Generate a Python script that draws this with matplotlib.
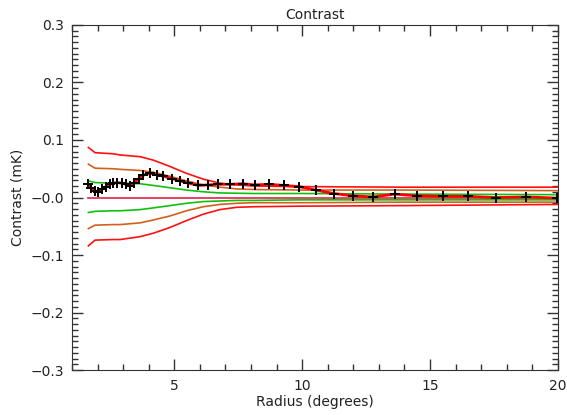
import matplotlib

matplotlib.use("Agg")
import matplotlib.pyplot as plt
from matplotlib.ticker import MultipleLocator

# measured contrast profile
radius = [1.63, 1.76, 1.89, 2.02, 2.16, 2.33, 2.48, 2.61, 2.77, 2.94, 3.11, 3.27, 3.42,
          3.63, 3.79, 4.05, 4.31, 4.57, 4.90, 5.22, 5.55, 5.94, 6.33, 6.72, 7.17, 7.67,
          8.15, 8.71, 9.28, 9.88, 10.53, 11.23, 11.98, 12.76, 13.62, 14.48, 15.49,
          16.47, 17.56, 18.77, 19.95]
contrast = [0.023, 0.016, 0.012, 0.010, 0.014, 0.019, 0.023, 0.025, 0.026, 0.025, 0.023,
            0.020, 0.026, 0.033, 0.039, 0.042, 0.040, 0.037, 0.033, 0.029, 0.025, 0.021,
            0.022, 0.023, 0.023, 0.024, 0.022, 0.023, 0.021, 0.019, 0.013, 0.007, 0.003,
            0.001, 0.006, 0.003, 0.002, 0.002, 0.000, 0.001, -0.001]
contrast_err = [0.005] * len(radius)

# envelope curves
env_x = [1.64, 1.90, 2.61, 2.88, 3.66, 4.18, 4.83, 5.48, 6.13, 6.78, 7.43, 8.08, 9.91, 14.0, 20.0]
red_hi = [0.087, 0.078, 0.076, 0.074, 0.071, 0.065, 0.054, 0.042, 0.032, 0.025, 0.022,
          0.020, 0.019, 0.018, 0.018]
red_lo = [-0.084, -0.074, -0.073, -0.073, -0.068, -0.062, -0.052, -0.040, -0.029, -0.021,
          -0.017, -0.016, -0.015, -0.014, -0.012]
orange_hi = [0.058, 0.051, 0.050, 0.049, 0.047, 0.044, 0.037, 0.029, 0.022, 0.018, 0.015,
             0.014, 0.013, 0.013, 0.012]
orange_lo = [-0.054, -0.048, -0.047, -0.047, -0.044, -0.039, -0.032, -0.023, -0.016, -0.012,
             -0.010, -0.009, -0.009, -0.008, -0.008]
green_hi = [0.029, 0.026, 0.025, 0.025, 0.024, 0.021, 0.017, 0.013, 0.010, 0.008, 0.0075,
            0.007, 0.007, 0.006, 0.005]
green_lo = [-0.026, -0.024, -0.023, -0.023, -0.021, -0.018, -0.014, -0.010, -0.007, -0.006,
            -0.005, -0.005, -0.004, -0.004, -0.004]

yticks = [-0.3, -0.2, -0.1, 0.0, 0.1, 0.2, 0.3]
ytick_labels = ["\u22120.3", "\u22120.2", "\u22120.1", "\u22120.0", "0.1", "0.2", "0.3"]
xticks = [5, 10, 15, 20]

fig = plt.figure(figsize=(5.67, 4.15), dpi=100)
ax = fig.add_axes([0.127, 0.108, 0.857, 0.832])

ax.plot([env_x[0], 20], [0, 0], color="#e8305a", lw=1.3)
for hi, lo, col in [(red_hi, red_lo, "#ff1010"), (orange_hi, orange_lo, "#d2601a"),
                    (green_hi, green_lo, "#10c010")]:
    ax.plot(env_x, hi, color=col, lw=1.2)
    ax.plot(env_x, lo, color=col, lw=1.2)

ax.plot(radius, contrast, color="#ff0000", lw=2)
ax.errorbar(radius, contrast, yerr=contrast_err, fmt="+", color="black", ms=7, mew=1.4,
            elinewidth=1.4, capsize=0)

ax.set_xlim(1, 20)
ax.set_ylim(-0.3, 0.3)
ax.set_xticks(xticks)
ax.xaxis.set_minor_locator(MultipleLocator(1))
ax.set_yticks(yticks)
ax.set_yticklabels(ytick_labels)
ax.yaxis.set_minor_locator(MultipleLocator(0.01))
ax.tick_params(which="both", direction="in", top=True, right=True, color="#333333",
               labelsize=10, labelcolor="#222222")
ax.tick_params(which="major", length=8, width=1, pad=6)
ax.tick_params(which="minor", length=4, width=1)
for s in ax.spines.values():
    s.set_color("#333333")
ax.set_xlabel("Radius (degrees)", fontsize=10, color="#222222", labelpad=2)
ax.set_ylabel("Contrast (mK)", fontsize=10, color="#222222", labelpad=4)
ax.set_title("Contrast", fontsize=10, color="#222222", pad=4)

fig.savefig("out.png", dpi=100)
